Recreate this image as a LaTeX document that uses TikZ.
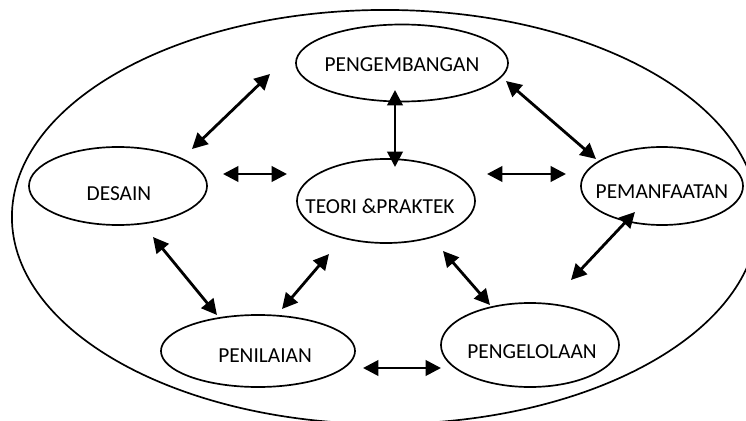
\documentclass[tikz,border=0pt]{standalone}
\usepackage{fontspec}
\setmainfont{Carlito}
\usetikzlibrary{shapes.geometric,arrows.meta}
\newcommand{\ovtext}[3]{\makebox[0pt]{\hspace*{#1}\raisebox{\dimexpr-4.9pt+#2\relax}[0pt][0pt]{#3}}}
\begin{document}
\begin{tikzpicture}[x=0.025cm, y=-0.025cm, font=\fontsize{15.2pt}{18pt}\selectfont,
	oval/.style={ellipse, draw, line width=1.2pt, inner sep=0pt},
	link/.style={{Triangle[length=11pt,width=11pt]}-{Triangle[length=11pt,width=11pt]}, line width=2pt}]
		\clip (0,0) rectangle (746,421);
		\draw[line width=1.2pt] (385,217) ellipse [x radius=9.325cm, y radius=5.175cm];
		\path (402,63) node[oval, minimum width=5.3cm, minimum height=1.925cm] (PG) {\ovtext{0pt}{-1.4pt}{PENGEMBANGAN}}
			(118,186) node[oval, minimum width=4.45cm, minimum height=1.95cm] (DS) {\ovtext{1.4pt}{-5.7pt}{DESAIN}}
			(386,201) node[oval, minimum width=4.45cm, minimum height=2.1cm] (TP) {\ovtext{-8.5pt}{-4.3pt}{TEORI \&PRAKTEK}}
			(662,186) node[oval, minimum width=4.05cm, minimum height=1.95cm] (PM) {\ovtext{0pt}{-4.3pt}{PEMANFAATAN}}
			(258,351) node[oval, minimum width=4.85cm, minimum height=1.8cm] (PN) {\ovtext{10pt}{-3.6pt}{PENILAIAN}}
			(530,345) node[oval, minimum width=4.45cm, minimum height=2.1cm] (PL) {\ovtext{2.8pt}{-5pt}{PENGELOLAAN}};
		\path (192,149) coordinate (DS-PG) (270,74) coordinate (PG-DS)
			(223,174) coordinate (DS-TP) (287,174) coordinate (TP-DS)
			(395,90) coordinate (PG-TP) (395,167) coordinate (TP-PG)
			(506,81) coordinate (PG-PM) (596,159) coordinate (PM-PG)
			(487,174) coordinate (TP-PM) (566,174) coordinate (PM-TP)
			(635,212) coordinate (PM-PL) (571,280) coordinate (PL-PM)
			(443,251) coordinate (TP-PL) (490,305) coordinate (PL-TP)
			(363,368) coordinate (PN-PL) (441,368) coordinate (PL-PN)
			(153,237) coordinate (DS-PN) (217,315) coordinate (PN-DS)
			(329,254) coordinate (TP-PN) (282,309) coordinate (PN-TP);
		\draw[link] (DS-PG) -- (PG-DS);
		\draw[link] (DS-TP) -- (TP-DS);
		\draw[link] (PG-TP) -- (TP-PG);
		\draw[link] (PG-PM) -- (PM-PG);
		\draw[link] (TP-PM) -- (PM-TP);
		\draw[link] (PM-PL) -- (PL-PM);
		\draw[link] (TP-PL) -- (PL-TP);
		\draw[link] (PN-PL) -- (PL-PN);
		\draw[link] (DS-PN) -- (PN-DS);
		\draw[link] (TP-PN) -- (PN-TP);
	\end{tikzpicture}
\end{document}
